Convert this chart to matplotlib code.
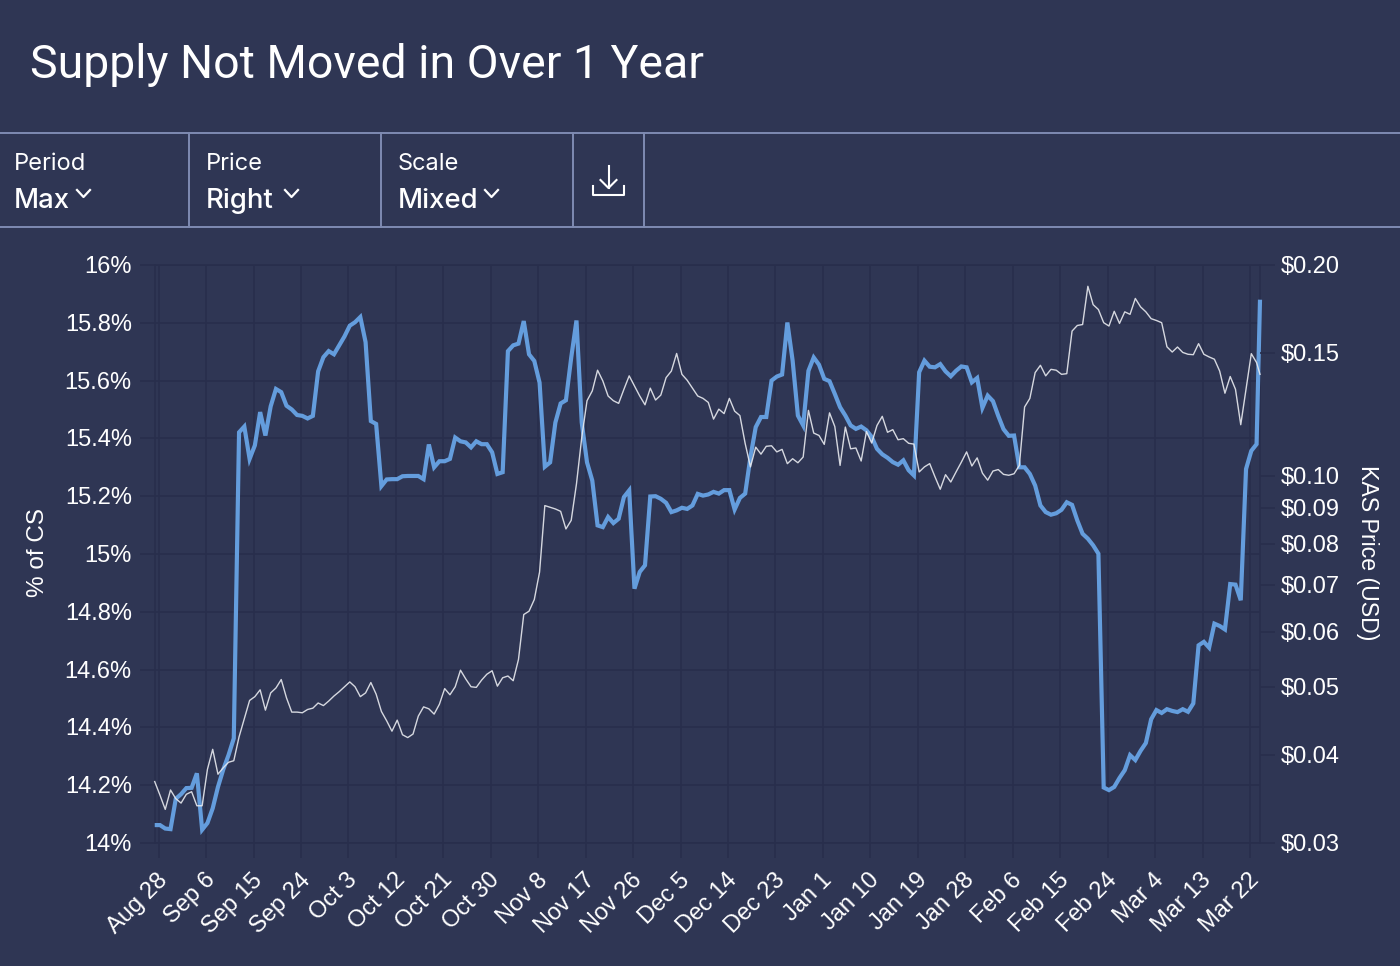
import pandas as pd
import matplotlib
matplotlib.use('Agg')
import matplotlib.pyplot as plt
from matplotlib.ticker import NullFormatter
from matplotlib.transforms import ScaledTranslation

# Values, one per day
pct_supply = [
    14.062, 14.062, 14.05, 14.048, 14.153, 14.169, 14.19, 14.191, 14.241, 14.046,
    14.069, 14.12, 14.194, 14.254, 14.304, 14.362, 15.421, 15.441, 15.329, 15.376,
    15.491, 15.41, 15.511, 15.571, 15.56, 15.513, 15.5, 15.481, 15.478, 15.469,
    15.478, 15.632, 15.681, 15.702, 15.691, 15.722, 15.753, 15.79, 15.802, 15.82,
    15.733, 15.46, 15.45, 15.235, 15.258, 15.259, 15.259, 15.269, 15.27, 15.27,
    15.27, 15.259, 15.379, 15.3, 15.321, 15.321, 15.329, 15.403, 15.39, 15.386,
    15.369, 15.39, 15.38, 15.38, 15.352, 15.277, 15.283, 15.702, 15.722, 15.728,
    15.806, 15.691, 15.668, 15.593, 15.302, 15.317, 15.455, 15.521, 15.532, 15.679,
    15.808, 15.455, 15.317, 15.254, 15.099, 15.093, 15.128, 15.107, 15.122, 15.197,
    15.22, 14.88, 14.938, 14.961, 15.199, 15.2, 15.191, 15.177, 15.145, 15.151,
    15.16, 15.156, 15.168, 15.208, 15.202, 15.206, 15.215, 15.209, 15.221, 15.221,
    15.154, 15.194, 15.209, 15.336, 15.439, 15.474, 15.474, 15.6, 15.614, 15.621,
    15.801, 15.669, 15.479, 15.445, 15.634, 15.68, 15.655, 15.606, 15.598, 15.554,
    15.508, 15.479, 15.445, 15.433, 15.441, 15.428, 15.405, 15.364, 15.345, 15.333,
    15.318, 15.309, 15.324, 15.29, 15.272, 15.629, 15.669, 15.648, 15.646, 15.657,
    15.632, 15.615, 15.634, 15.649, 15.646, 15.594, 15.609, 15.506, 15.548, 15.529,
    15.478, 15.432, 15.409, 15.41, 15.3, 15.3, 15.277, 15.237, 15.168, 15.145,
    15.136, 15.141, 15.153, 15.179, 15.17, 15.116, 15.07, 15.053, 15.03, 15.001,
    14.192, 14.183, 14.194, 14.225, 14.252, 14.304, 14.287, 14.319, 14.346, 14.428,
    14.46, 14.45, 14.463, 14.457, 14.453, 14.463, 14.454, 14.483, 14.684, 14.696,
    14.676, 14.759, 14.751, 14.739, 14.896, 14.894, 14.84, 15.294, 15.357, 15.38, 15.88,
]

kas_price = [
    .0367, .0351, .0335, .0357, .0347, .0342, .0352, .0355, .0339, .0339,
    .0382, .0408, .0376, .0384, .0391, .0393, .0425, .0451, .0479, .0485,
    .0496, .0464, .0491, .0499, .0513, .0483, .0461, .0461, .0460, .0465,
    .0467, .0475, .0471, .0478, .0486, .0493, .0501, .0509, .0501, .0485,
    .0491, .0508, .0489, .0462, .0448, .0433, .0449, .0428, .0424, .0429,
    .0455, .0469, .0466, .0458, .0473, .0498, .0488, .0501, .0529, .0514,
    .0501, .0500, .0512, .0522, .0528, .0502, .0516, .0519, .0511, .0548,
    .0635, .0642, .0667, .0730, .0908, .0903, .0898, .0891, .0841, .0865,
    .0975, .1135, .1281, .1323, .1416, .1367, .1301, .1281, .1270, .1330,
    .1390, .1345, .1301, .1264, .1335, .1284, .1305, .1382, .1412, .1496,
    .1397, .1370, .1335, .1301, .1291, .1274, .1206, .1246, .1228, .1291,
    .1238, .1220, .1113, .1031, .1100, .1075, .1103, .1105, .1083, .1092,
    .1042, .1059, .1045, .1065, .1241, .1152, .1143, .1110, .1231, .1177,
    .1036, .1175, .1094, .1097, .1051, .1158, .1115, .1181, .1217, .1155,
    .1165, .1127, .1131, .1114, .1111, .1014, .1031, .1042, .0998, .0958,
    .1005, .0981, .1014, .1047, .1083, .1034, .1062, .1010, .0987, .1017,
    .1022, .1006, .1003, .1008, .1036, .1255, .1291, .1405, .1439, .1390,
    .1420, .1416, .1397, .1400, .1610, .1640, .1645, .1865, .1756, .1728,
    .1655, .1637, .1718, .1651, .1715, .1701, .1792, .1743, .1715, .1677,
    .1667, .1655, .1529, .1503, .1528, .1501, .1492, .1490, .1545, .1492,
    .1479, .1468, .1412, .1313, .1387, .1330, .1184, .1330, .1495, .1452, .1397,
]

date_labels = ['Aug 28', 'Sep 6', 'Sep 15', 'Sep 24', 'Oct 3', 'Oct 12', 'Oct 21', 'Oct 30',
               'Nov 8', 'Nov 17', 'Nov 26', 'Dec 5', 'Dec 14', 'Dec 23', 'Jan 1', 'Jan 10',
               'Jan 19', 'Jan 28', 'Feb 6', 'Feb 15', 'Feb 24', 'Mar 4', 'Mar 13', 'Mar 22']
pct_ticks = [14, 14.2, 14.4, 14.6, 14.8, 15, 15.2, 15.4, 15.6, 15.8, 16]
pct_labels = ['14%', '14.2%', '14.4%', '14.6%', '14.8%', '15%', '15.2%', '15.4%', '15.6%', '15.8%', '16%']
price_ticks = [.03, .04, .05, .06, .07, .08, .09, .10, .15, .20]
price_labels = ['$0.03', '$0.04', '$0.05', '$0.06', '$0.07', '$0.08', '$0.09', '$0.10', '$0.15', '$0.20']

BG = '#2f3654'
GRID = '#282e4c'
RULE = '#7f8bb2'
W, H = 1400, 966
TICK_FONT = ['Liberation Sans', 'DejaVu Sans']
UI_FONT = ['Inter', 'DejaVu Sans']
TICK_SIZE = 17

dates = pd.date_range('2023-08-27 06:00', periods=210, freq='D')
dates = dates.append(pd.DatetimeIndex([dates[-1] + pd.Timedelta(hours=15.6)]))
tick_dates = pd.date_range('2023-08-28', periods=len(date_labels), freq='9D')

fig = plt.figure(figsize=(14, 9.66), dpi=100, facecolor=BG)
ax = fig.add_axes([154.7 / W, 1 - 843 / H, (1260 - 154.7) / W, (843 - 265) / H], facecolor=BG)
ax2 = ax.twinx()

ax.plot(dates, pct_supply, color='#649ddd', lw=3.0, solid_joinstyle='miter', solid_capstyle='butt',
        clip_on=False, zorder=3)
ax2.plot(dates, kas_price, color='#e8eaef', lw=1.0, alpha=0.9, clip_on=False)

ax.set_xlim(dates[0], dates[-1])
ax.set_ylim(14, 16)
ax2.set_yscale('log')
ax2.set_ylim(.03, .20)

ax.grid(True, color=GRID, lw=1.2)
ax.set_axisbelow(True)
ax.set_xticks(tick_dates)
ax.set_xticklabels(date_labels, rotation=45, ha='right', rotation_mode='anchor',
                   fontsize=TICK_SIZE, color='white', family=TICK_FONT)
ax.set_yticks(pct_ticks)
ax.set_yticklabels(pct_labels, fontsize=TICK_SIZE, color='white', family=TICK_FONT)
ax.tick_params(axis='x', length=11, width=1.2, color=GRID, pad=2)
ax.tick_params(axis='y', length=11, width=1.2, color=GRID, pad=5.5)

ax2.set_yticks(price_ticks)
ax2.set_yticklabels(price_labels, fontsize=TICK_SIZE, color='white', family=TICK_FONT)
ax2.yaxis.set_minor_formatter(NullFormatter())
ax2.tick_params(axis='y', which='minor', length=0)
ax2.tick_params(axis='y', which='major', length=11, width=1.2, color=GRID, pad=4)

# nudge the tick labels a few pixels to sit where the original has them
px = 1 / 100
for lab in ax.get_xticklabels():
    lab.set_transform(lab.get_transform() + ScaledTranslation(-2 * px, -8 * px, fig.dpi_scale_trans))
for lab in ax.get_yticklabels() + ax2.get_yticklabels():
    lab.set_transform(lab.get_transform() + ScaledTranslation(0, 0.5 * px, fig.dpi_scale_trans))

for s in ax.spines.values():
    s.set_color(GRID)
    s.set_linewidth(1.2)
# the twin's spines would sit on top of the blue line
for s in ax2.spines.values():
    s.set_visible(False)

# page furniture in pixel coordinates
ui = fig.add_axes([0, 0, 1, 1], facecolor='none')
ui.set_xlim(0, W)
ui.set_ylim(H, 0)
ui.axis('off')

ui.text(38, 552.5, '% of CS', rotation=90, ha='center', va='center', fontsize=TICK_SIZE + 0.5, color='white', family=TICK_FONT)
ui.text(1367, 553, 'KAS Price (USD)', rotation=270, ha='center', va='center', fontsize=16.7, color='white', family=TICK_FONT)

ui.text(30, 78, 'Supply Not Moved in Over 1 Year', fontsize=33.4, color='white', family=['Roboto', 'DejaVu Sans'], va='baseline')

ui.plot([0, W], [132.5, 132.5], color=RULE, lw=1.4)
ui.plot([0, W], [227, 227], color=RULE, lw=1.4)
for x in [188.5, 380.5, 572.5, 644]:
    ui.plot([x, x], [133, 227], color=RULE, lw=1.4)

controls = [(14, 'Period', 'Max', 77), (206, 'Price', 'Right', 285), (398, 'Scale', 'Mixed', 485)]
for x, name, value, chev in controls:
    ui.text(x, 170, name, fontsize=17, color='white', family=UI_FONT, va='baseline')
    ui.text(x, 208, value, fontsize=19.8, color='white', family=UI_FONT, va='baseline', weight='medium')
    ui.plot([chev, chev + 6.5, chev + 13], [190, 197, 190], color='white', lw=1.6)

# download icon
ui.plot([608.5, 608.5], [166, 188], color='white', lw=1.5)
ui.plot([600.5, 608.5, 616.5], [180, 188, 180], color='white', lw=1.5)
ui.plot([593, 593, 624, 624], [186, 195, 195, 186], color='white', lw=1.5)

fig.savefig('out.png', dpi=100, facecolor=BG)
